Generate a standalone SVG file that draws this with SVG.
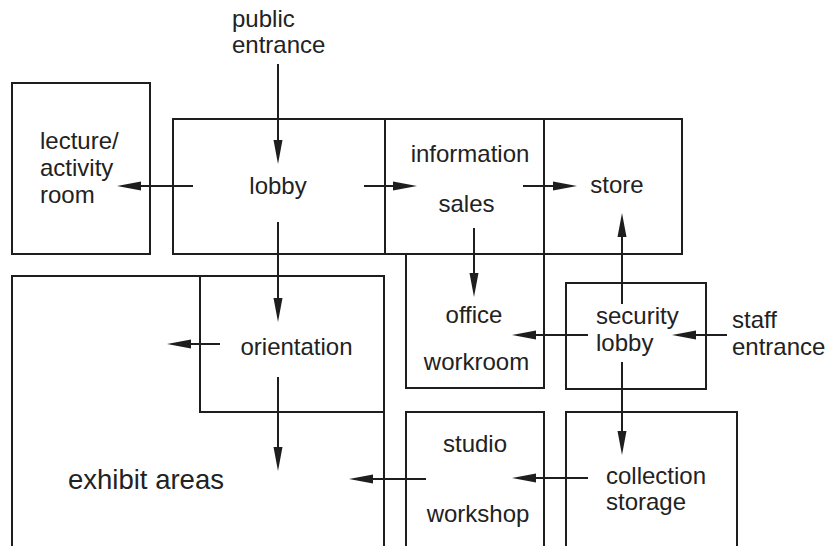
<svg xmlns="http://www.w3.org/2000/svg" width="829" height="546" viewBox="0 0 829 546">
<defs>
<style>
.box{fill:none;stroke:#1e1e1e;stroke-width:2}
.lbl{font-family:"Liberation Sans",Arial,sans-serif;font-size:24px;fill:#222}
.mid{text-anchor:middle}
.big{font-size:27.5px}
.con line{stroke:#1e1e1e;stroke-width:2;marker-end:url(#ah)}
</style>
<marker id="ah" markerUnits="userSpaceOnUse" markerWidth="24" markerHeight="9" refX="0" refY="4.5" orient="auto" overflow="visible">
<path d="M0,0 L24,4.5 L0,9 Z" fill="#1e1e1e"/>
</marker>
</defs>
<rect width="829" height="546" fill="#fff"/>
<g id="public-entrance"><text class="lbl" x="232" y="27">public</text><text class="lbl" x="232" y="53">entrance</text></g>
<g id="lecture"><rect class="box" x="12" y="83" width="138" height="171"/><text class="lbl" x="40" y="149">lecture/</text><text class="lbl" x="40" y="176">activity</text><text class="lbl" x="40" y="203">room</text></g>
<g id="lobby"><rect class="box" x="173" y="119" width="212" height="135"/><text class="lbl mid" x="278" y="194">lobby</text></g>
<g id="information-sales"><rect class="box" x="385" y="119" width="159" height="135"/><text class="lbl mid" x="470" y="162">information</text><text class="lbl mid" x="466.5" y="212">sales</text></g>
<g id="store"><rect class="box" x="544" y="119" width="138" height="135"/><text class="lbl mid" x="617" y="193">store</text></g>
<g id="office-workroom"><rect class="box" x="406" y="254" width="138" height="134"/><text class="lbl mid" x="474" y="323">office</text><text class="lbl mid" x="476.5" y="370">workroom</text></g>
<g id="security-lobby"><rect class="box" x="566" y="283" width="140" height="106"/><text class="lbl" x="596" y="324">security</text><text class="lbl" x="596" y="351">lobby</text></g>
<g id="staff-entrance"><text class="lbl" x="732" y="328">staff</text><text class="lbl" x="732" y="355">entrance</text></g>
<g id="exhibit-areas"><rect class="box" x="12" y="276" width="372" height="290"/><text class="lbl big" x="68" y="489">exhibit areas</text></g>
<g id="orientation"><rect class="box" x="200" y="276" width="184" height="136"/><text class="lbl mid" x="296.5" y="355">orientation</text></g>
<g id="studio-workshop"><rect class="box" x="406" y="412" width="138" height="154"/><text class="lbl mid" x="475" y="452">studio</text><text class="lbl mid" x="478" y="522">workshop</text></g>
<g id="collection-storage"><rect class="box" x="566" y="412" width="171" height="154"/><text class="lbl" x="606" y="484">collection</text><text class="lbl" x="606" y="510">storage</text></g>
<g id="connectors" class="con">
<line x1="278" y1="64" x2="278" y2="140"/>
<line x1="193" y1="186" x2="141" y2="186"/>
<line x1="364" y1="186" x2="393" y2="186"/>
<line x1="523" y1="186" x2="553" y2="186"/>
<line x1="278" y1="222" x2="278" y2="298"/>
<line x1="474" y1="228" x2="474" y2="273"/>
<line x1="622" y1="304" x2="622" y2="237"/>
<line x1="588" y1="335" x2="536" y2="335"/>
<line x1="727" y1="335" x2="696" y2="335"/>
<line x1="622" y1="362" x2="622" y2="431"/>
<line x1="220" y1="344" x2="191" y2="344"/>
<line x1="278" y1="377" x2="278" y2="447"/>
<line x1="588" y1="478" x2="536" y2="478"/>
<line x1="426" y1="479" x2="373" y2="479"/>
</g>
</svg>
